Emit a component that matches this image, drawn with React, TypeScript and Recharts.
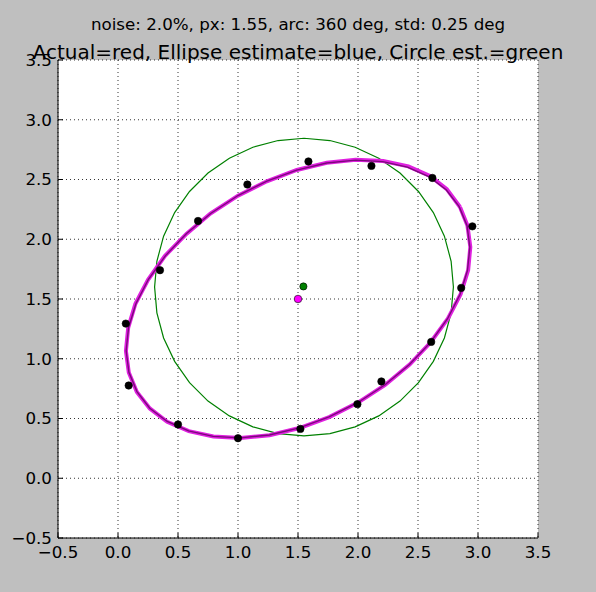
import React from 'react';
import { ComposedChart, Scatter, XAxis, YAxis, CartesianGrid } from 'recharts';

// sampled points (black dots)
const samplePoints: [number, number][] = [
  [1.587, 2.651], [2.112, 2.614], [2.62, 2.513], [2.953, 2.108],
  [2.86, 1.593], [2.61, 1.141], [2.195, 0.81], [1.995, 0.62],
  [1.52, 0.413], [1.0, 0.335], [0.5, 0.45], [0.089, 0.776],
  [0.065, 1.294], [0.35, 1.741], [0.667, 2.153], [1.078, 2.458],
];

// actual ellipse (red, drawn under the estimate)
const actualCurve: [number, number][] = [
  [2.85, 2.27], [2.74, 2.42], [2.6, 2.53], [2.42, 2.61], [2.21, 2.655], [1.98, 2.665],
  [1.74, 2.64], [1.49, 2.58], [1.24, 2.485], [1.0, 2.365], [0.77, 2.215], [0.57, 2.045],
  [0.39, 1.86], [0.25, 1.66], [0.145, 1.46], [0.085, 1.26], [0.066, 1.065], [0.09, 0.885],
  [0.157, 0.722], [0.265, 0.584], [0.41, 0.473], [0.59, 0.394], [0.795, 0.349], [1.02, 0.337],
  [1.263, 0.36], [1.512, 0.42], [1.76, 0.512], [2.0, 0.633], [2.226, 0.781], [2.43, 0.951],
  [2.606, 1.138], [2.75, 1.337], [2.855, 1.54], [2.918, 1.742], [2.936, 1.935], [2.912, 2.115],
  [2.85, 2.27],
];

// ellipse estimate (blue)
const fitCurve: [number, number][] = [
  [2.842, 2.275], [2.735, 2.414], [2.59, 2.525], [2.412, 2.604], [2.207, 2.65], [1.98, 2.662],
  [1.738, 2.638], [1.489, 2.579], [1.241, 2.487], [1.0, 2.366], [0.775, 2.218], [0.571, 2.049],
  [0.396, 1.863], [0.254, 1.665], [0.15, 1.463], [0.088, 1.262], [0.068, 1.068], [0.091, 0.887],
  [0.158, 0.725], [0.265, 0.586], [0.41, 0.475], [0.588, 0.396], [0.793, 0.35], [1.02, 0.338],
  [1.262, 0.362], [1.511, 0.421], [1.759, 0.513], [2.0, 0.634], [2.225, 0.782], [2.429, 0.951],
  [2.604, 1.137], [2.746, 1.335], [2.85, 1.537], [2.912, 1.738], [2.932, 1.932], [2.909, 2.113],
  [2.842, 2.275],
];

// circle estimate (green)
const circleCurve: [number, number][] = [
  [2.795, 1.6], [2.776, 1.816], [2.72, 2.026], [2.628, 2.223], [2.504, 2.4], [2.35, 2.554],
  [2.173, 2.678], [1.976, 2.77], [1.766, 2.826], [1.55, 2.845], [1.334, 2.826], [1.124, 2.77],
  [0.928, 2.678], [0.75, 2.554], [0.596, 2.4], [0.472, 2.223], [0.38, 2.026], [0.324, 1.816],
  [0.305, 1.6], [0.324, 1.384], [0.38, 1.174], [0.472, 0.978], [0.596, 0.8], [0.75, 0.646],
  [0.928, 0.522], [1.124, 0.43], [1.334, 0.374], [1.55, 0.355], [1.766, 0.374], [1.976, 0.43],
  [2.173, 0.522], [2.35, 0.646], [2.504, 0.8], [2.628, 0.978], [2.72, 1.174], [2.776, 1.384],
  [2.795, 1.6],
];

const circleCenter: [number, number][] = [[1.545, 1.605]];
const ellipseCenter: [number, number][] = [[1.5, 1.5]];

const ticks = [-0.5, 0, 0.5, 1, 1.5, 2, 2.5, 3, 3.5];

const toXY = (pts: [number, number][]) => pts.map(([x, y]) => ({ x, y }));
const fmt = (v: number) => (v < 0 ? '\u2212' : '') + Math.abs(v).toFixed(1);
const FONT = 'DejaVu Sans';
const tickStyle = { fill: '#000', fontSize: 16.7, fontFamily: FONT };

const noShape = () => <g />;
const dot = (fill: string, r: number) => (p: any) => (
  <circle cx={p.cx} cy={p.cy} r={r} fill={fill} stroke="#000" strokeWidth={0.6} />
);

export default function App() {
  return (
    <div style={{ position: 'absolute', left: 0, top: 0, width: 596, height: 592, background: '#bfbfbf' }}>
      <ComposedChart width={596} height={592} margin={{ top: 60, right: 58, bottom: 0, left: 0 }}>
        <CartesianGrid stroke="#000" strokeDasharray="1 3" strokeWidth={0.8} fill="#fff" />
        <XAxis
          type="number" dataKey="x" domain={[-0.5, 3.5]} ticks={ticks} allowDataOverflow
          tickFormatter={fmt} height={54} tick={tickStyle} stroke="#000"
          tickSize={-5} tickMargin={13}
        />
        <YAxis
          type="number" dataKey="y" domain={[-0.5, 3.5]} ticks={ticks} allowDataOverflow
          tickFormatter={fmt} width={58} tick={tickStyle} stroke="#000"
          tickSize={-5} tickMargin={11}
        />
        <XAxis
          xAxisId="top" orientation="top" type="number" domain={[-0.5, 3.5]} ticks={ticks}
          allowDataOverflow height={0} tick={false} stroke="#000" tickSize={-5}
        />
        <YAxis
          yAxisId="right" orientation="right" type="number" domain={[-0.5, 3.5]} ticks={ticks}
          allowDataOverflow width={0} tick={false} stroke="#000" tickSize={-5}
        />
        <Scatter
          data={toXY(circleCurve)} shape={noShape} isAnimationActive={false}
          line={{ stroke: '#008000', strokeWidth: 1.2 }} lineJointType="linear"
        />
        <Scatter
          data={toXY(actualCurve)} shape={noShape} isAnimationActive={false}
          line={{ stroke: '#e020e0', strokeWidth: 4 }} lineJointType="linear"
        />
        <Scatter
          data={toXY(fitCurve)} shape={noShape} isAnimationActive={false}
          line={{ stroke: '#7a0a7a', strokeWidth: 1.4 }} lineJointType="linear"
        />
        <Scatter data={toXY(samplePoints)} shape={dot('#000', 3.7)} isAnimationActive={false} />
        <Scatter data={toXY(circleCenter)} shape={dot('#008000', 3.6)} isAnimationActive={false} />
        <Scatter data={toXY(ellipseCenter)} shape={dot('#ff00ff', 3.8)} isAnimationActive={false} />
      </ComposedChart>
      <svg width={596} height={70} style={{ position: 'absolute', left: 0, top: 0, pointerEvents: 'none' }}>
        <text x={298} y={29.5} textAnchor="middle" fontFamily={FONT} fontSize={16.7} fill="#000">
          noise: 2.0%, px: 1.55, arc: 360 deg, std: 0.25 deg
        </text>
        <text x={298} y={59} textAnchor="middle" fontFamily={FONT} fontSize={20} fill="#000">
          Actual=red, Ellipse estimate=blue, Circle est.=green
        </text>
      </svg>
    </div>
  );
}
